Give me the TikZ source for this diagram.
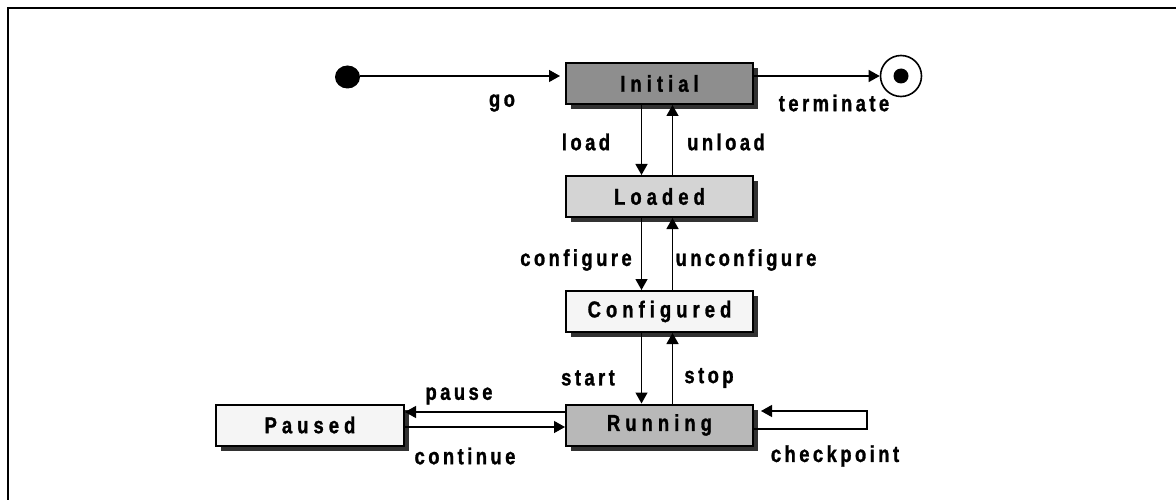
\documentclass[tikz,border=0pt]{standalone}
\usepackage{fontspec}
\usetikzlibrary{arrows.meta,shadows,shapes.geometric}
\newfontfamily\boxfont[FakeStretch=0.8,LetterSpace=22,FakeBold=1.2]{Liberation Sans}
\newfontfamily\edgefont[FakeStretch=0.8,LetterSpace=15,FakeBold=1.2]{Liberation Sans}
\definecolor{cInit}{RGB}{142,142,142}
\definecolor{cLoad}{RGB}{212,212,212}
\definecolor{cConf}{RGB}{245,245,245}
\definecolor{cRun}{RGB}{184,184,184}
\definecolor{cShadow}{RGB}{50,50,50}
\begin{document}
\begin{tikzpicture}[x=1pt,y=-1pt,
  state/.style={draw=black, line width=2pt, minimum width=187pt, minimum height=41pt,
    inner sep=0pt, font=\boxfont\bfseries\fontsize{23}{26}\selectfont,
    general shadow={fill=cShadow, shadow xshift=5pt, shadow yshift=-5pt}},
  lbl/.style={font=\edgefont\bfseries\fontsize{23}{26}\selectfont, inner sep=0pt},
  arr/.style={-{Triangle[length=11pt,width=12pt]}, line width=1.3pt},
  frameline/.style={line width=2pt}]
\useasboundingbox (0,0) rectangle (1176,500);
\draw[frameline] (7.7,500) -- (7.7,7.7) -- (1176,7.7);

% states
\node[state, fill=cInit] (I) at (659.5,83.5) {Initial};
\node[state, fill=cLoad] (L) at (659.5,196.5) {Loaded};
\node[state, fill=cConf] (C) at (659.5,311.5) {Configured};
\node[state, fill=cRun]  (R) at (659.5,425) {Running};
\node[state, fill=cConf, minimum width=188pt] (P) at (310,425) {Paused};

% pseudo states
\node[ellipse, fill=black, minimum width=25pt, minimum height=23pt, inner sep=0pt] (S) at (347.5,77) {};
\node[circle, draw=black, line width=1.6pt, minimum size=41pt, inner sep=0pt] (E) at (901,76) {};
\node[circle, fill=black, minimum size=15pt, inner sep=0pt] (Ed) at (E.center) {};

% transitions
\draw[arr, shorten >=5pt] (S.east |- 0,76) -- (I.west |- 0,76);
\draw[arr] (I.east |- 0,76) -- (E.west);
\draw[arr] ([xshift=-18pt]I.south) -- ([xshift=-18pt]L.north);
\draw[arr] ([xshift=13pt]L.north) -- ([xshift=13pt]I.south);
\draw[arr] ([xshift=-18pt]L.south) -- ([xshift=-18pt]C.north);
\draw[arr] ([xshift=13pt]C.north) -- ([xshift=13pt]L.south);
\draw[arr] ([xshift=-18pt]C.south) -- ([xshift=-18pt]R.north);
\draw[arr] ([xshift=13pt]R.north) -- ([xshift=13pt]C.south);
\draw[arr] ([yshift=13pt]R.west) -- ([yshift=13pt]P.east);
\draw[arr] ([yshift=-2pt]P.east) -- ([yshift=-2pt]R.west);
\coordinate (cp1) at (867,429);
\coordinate (cp2) at (867,411);
\draw[arr] ([yshift=-4pt]R.east) -- (cp1) -- (cp2) -- ([xshift=7pt,yshift=14pt]R.east);

% labels
\node[lbl] (lgo) at (502,103) {go};
\node[lbl] (lterm) at (834,103) {terminate};
\node[lbl] (lload) at (586,142) {load};
\node[lbl] (lunload) at (726,142) {unload};
\node[lbl] (lconf) at (576,260) {configure};
\node[lbl] (lunconf) at (746,260) {unconfigure};
\node[lbl] (lstart) at (588,378) {start};
\node[lbl] (lstop) at (709,378) {stop};
\node[lbl] (lpause) at (459,396) {pause};
\node[lbl] (lcont) at (465,456) {continue};
\node[lbl] (lcheck) at (835,456) {checkpoint};
\end{tikzpicture}
\end{document}
